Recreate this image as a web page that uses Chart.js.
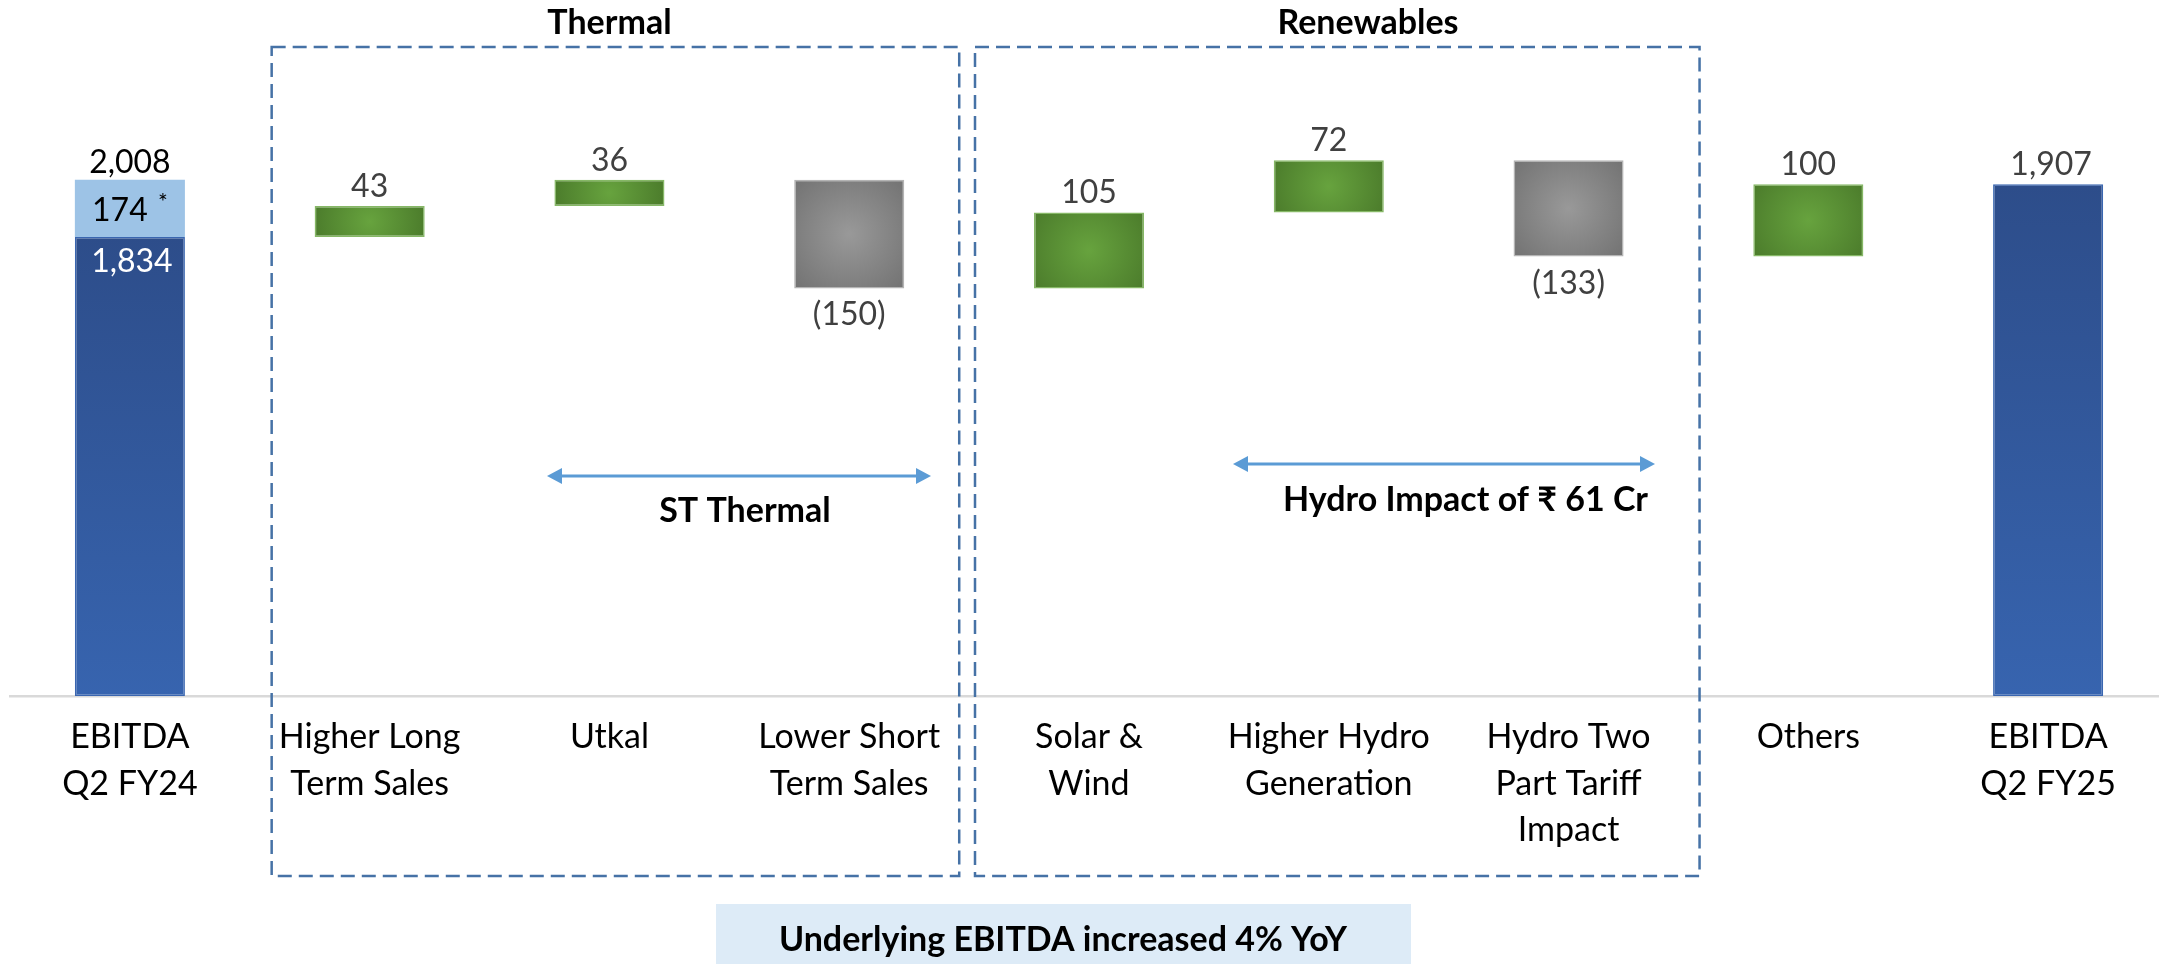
<!DOCTYPE html>
<html>
<head>
<meta charset="utf-8">
<script src="https://cdn.jsdelivr.net/npm/chart.js@4/dist/chart.umd.min.js"></script>
<style>
  html, body { margin: 0; padding: 0; background: #fff; overflow: hidden; }
  #wrap { width: 2168px; height: 964px; }
</style>
</head>
<body>
<div id="wrap"><canvas id="c" width="2168" height="964"></canvas></div>
<script>
// ---- data ----
var categories = [
    ["EBITDA", "Q2 FY24"],
    ["Higher Long", "Term Sales"],
    ["Utkal"],
    ["Lower Short", "Term Sales"],
    ["Solar &", "Wind"],
    ["Higher Hydro", "Generation"],
    ["Hydro Two", "Part Tariff", "Impact"],
    ["Others"],
    ["EBITDA", "Q2 FY25"]
];
var startUnderlying = 1834;
var oneOff = 174;
var startReported = 2008;
var changes = [43, 36, -150, 105, 72, -133, 100];
var endTotal = 1907;
var axisFloor = 1200;   // source chart uses a broken value axis
var axisTop = 2160;
var oneOffShown = 79;   // the 174 slice is drawn compressed in the source

var FONT = "Lato, 'Noto Sans', 'DejaVu Sans', sans-serif";

function fmt(v) {
    var s = Math.abs(v).toLocaleString("en-US");
    return v < 0 ? "(" + s + ")" : s;
}

// floating bars: totals from the floor, changes from the running total
var run = startUnderlying;
var mainBars = [[axisFloor, startUnderlying]];
changes.forEach(function (d) { mainBars.push([run, run + d]); run += d; });
mainBars.push([axisFloor, endTotal]);
var oneOffBars = categories.map(function (c, i) { return i === 0 ? [startUnderlying, startUnderlying + oneOffShown] : null; });

function barFill(ctx) {
    var chart = ctx.chart;
    if (!chart.chartArea || ctx.type !== "data" || !ctx.raw) return "#888";
    var xs = chart.scales.x, ys = chart.scales.y, c = chart.ctx, i = ctx.dataIndex, r = ctx.raw;
    var cx = xs.getPixelForValue(i);
    var y1 = ys.getPixelForValue(Math.max(r[0], r[1])), y2 = ys.getPixelForValue(Math.min(r[0], r[1]));
    var g;
    if (i === 0 || i === categories.length - 1) {
        g = c.createLinearGradient(0, y1, 0, y2);
        g.addColorStop(0, "#2D4D8A");
        g.addColorStop(1, "#3764AF");
        return g;
    }
    var half = (xs.getPixelForValue(1) - xs.getPixelForValue(0)) * 0.23;
    var hh = (y2 - y1) / 2, cy = (y1 + y2) / 2;
    var rad = Math.sqrt(half * half + hh * hh);
    g = c.createRadialGradient(cx, cy, 0, cx, cy, rad);
    if (r[1] >= r[0]) { g.addColorStop(0, "#67A33E"); g.addColorStop(1, "#4B7B2B"); }
    else { g.addColorStop(0, "#999999"); g.addColorStop(1, "#727272"); }
    return g;
}

function barEdge(ctx) {
    var i = ctx.dataIndex, r = ctx.raw;
    if (!r) return "transparent";
    if (i === 0 || i === categories.length - 1) return "#3A66B0";
    return r[1] >= r[0] ? "#86B866" : "#B4B4B4";
}

var labelPlugin = {
    id: "waterfallLabels",
    afterDatasetsDraw: function (chart) {
        var c = chart.ctx, xs = chart.scales.x, ys = chart.scales.y;
        c.save();
        c.textAlign = "center";
        c.textBaseline = "alphabetic";
        c.font = "32px " + FONT;

        var c0 = xs.getPixelForValue(0);
        var segTop = ys.getPixelForValue(startUnderlying + oneOffShown), segBot = ys.getPixelForValue(startUnderlying);
        c.fillStyle = "#000";
        c.fillText(fmt(startReported), c0, segTop - 7);
        c.fillText(fmt(oneOff), c0 - 10, (segTop + segBot) / 2 + 13);
        c.font = "23px " + FONT;
        c.fillText("*", c0 + 33, (segTop + segBot) / 2 + 2);
        c.font = "32px " + FONT;
        c.fillStyle = "#fff";
        c.fillText(fmt(startUnderlying), c0 + 2, segBot + 35);

        c.fillStyle = "#404040";
        changes.forEach(function (d, k) {
            var b = mainBars[k + 1], x = xs.getPixelForValue(k + 1);
            if (d >= 0) c.fillText(fmt(d), x, ys.getPixelForValue(b[1]) - 9);
            else c.fillText(fmt(d), x, ys.getPixelForValue(b[1]) + 37);
        });
        var last = categories.length - 1;
        c.fillText(fmt(endTotal), xs.getPixelForValue(last) + 3, ys.getPixelForValue(endTotal) - 9);
        c.restore();
    }
};

function arrow(c, x1, x2, y) {
    c.strokeStyle = "#5B9BD5"; c.fillStyle = "#5B9BD5"; c.lineWidth = 3;
    c.beginPath(); c.moveTo(x1 + 12, y); c.lineTo(x2 - 12, y); c.stroke();
    c.beginPath(); c.moveTo(x1, y); c.lineTo(x1 + 15, y - 8); c.lineTo(x1 + 15, y + 8); c.closePath(); c.fill();
    c.beginPath(); c.moveTo(x2, y); c.lineTo(x2 - 15, y - 8); c.lineTo(x2 - 15, y + 8); c.closePath(); c.fill();
}

var notesPlugin = {
    id: "notes",
    afterDraw: function (chart) {
        var c = chart.ctx, xs = chart.scales.x;
        c.save();
        // group boxes
        c.strokeStyle = "#4672A6"; c.lineWidth = 2.5; c.setLineDash([14, 7]);
        var tL = xs.getPixelForValue(1) - 98, tR = xs.getPixelForValue(3) + 110;
        var rL = xs.getPixelForValue(4) - 114, rR = xs.getPixelForValue(6) + 131;
        c.strokeRect(tL, 47, tR - tL, 829);
        c.strokeRect(rL, 47, rR - rL, 829);
        c.setLineDash([]);

        c.fillStyle = "#000"; c.textAlign = "center"; c.textBaseline = "alphabetic";
        c.font = "bold 34px " + FONT;
        c.fillText("Thermal", xs.getPixelForValue(2), 34);
        c.fillText("Renewables", 1368, 34);

        arrow(c, 547, 931, 476);
        c.fillStyle = "#000";
        c.fillText("ST Thermal", 745, 522);

        arrow(c, 1233, 1655, 464);
        c.fillStyle = "#000";
        c.textAlign = "right";
        c.fillText("Hydro Impact of \u20B9 61 Cr", 1648, 511);

        c.fillStyle = "#DDEBF7";
        c.fillRect(716, 904, 695, 60);
        c.fillStyle = "#000"; c.textAlign = "center";
        c.fillText("Underlying EBITDA increased 4% YoY", 1063, 951);
        c.restore();
    }
};

new Chart(document.getElementById("c"), {
    type: "bar",
    data: {
        labels: categories,
        datasets: [
            { label: "EBITDA bridge", data: mainBars, backgroundColor: barFill, borderColor: barEdge, borderWidth: 1.5, borderSkipped: false, barPercentage: 0.459, categoryPercentage: 1 },
            { label: "One-off", data: oneOffBars, backgroundColor: "#9DC3E6", borderWidth: 0, barPercentage: 0.459, categoryPercentage: 1 }
        ]
    },
    options: {
        responsive: false,
        animation: false,
        devicePixelRatio: 1,
        layout: { padding: { left: 10, right: 0, top: 1, bottom: 92.5 } },
        plugins: { legend: { display: false }, tooltip: { enabled: false } },
        scales: {
            x: {
                stacked: true,
                grid: { display: false, drawTicks: false },
                border: { display: true, color: "#D9D9D9", width: 2.5 },
                ticks: { color: "#000", padding: 18, maxRotation: 0, autoSkip: false, font: { family: FONT, size: 34, lineHeight: "46.5px" } }
            },
            y: { display: false, min: axisFloor, max: axisTop }
        }
    },
    plugins: [labelPlugin, notesPlugin]
});
</script>
</body>
</html>
